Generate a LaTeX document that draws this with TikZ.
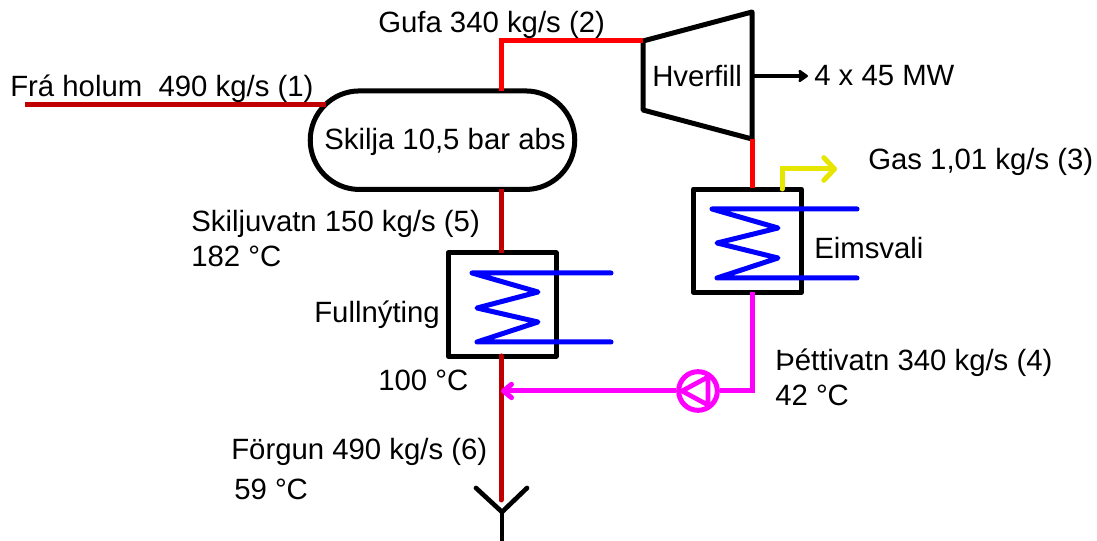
\documentclass[tikz,border=0pt]{standalone}
\usepackage{fontspec}
\setmainfont{Liberation Sans}
\usetikzlibrary{arrows.meta}
\definecolor{darkred}{RGB}{192,0,0}
\definecolor{gasyellow}{RGB}{230,230,0}
\definecolor{purewater}{RGB}{255,0,255}
\definecolor{coilblue}{RGB}{0,0,255}
\definecolor{hotred}{RGB}{255,0,0}
\tikzset{
    every node/.style={inner sep=0pt, font=\fontsize{22}{26}\selectfont},
    txt/.style={anchor=base west},
    vessel/.style={draw, line width=3.75pt, rounded corners=36.9pt, minimum width=198.4pt, minimum height=73.9pt},
    hxbox/.style={draw, line width=3.75pt, minimum width=81pt, minimum height=77.4pt, line join=round},
    outline/.style={draw, line width=3.75pt, line join=round},
    pipe/.style={line width=3.75pt, line join=miter},
    coil/.style={coilblue, line width=3.75pt, line cap=round, line join=round}
}

\begin{document}
\begin{tikzpicture}[x=0.75pt, y=-0.75pt]
    \useasboundingbox (0,0) rectangle (1097,541);

    \node (skilja) [vessel] at (442.5,140.2) {};
    \node (t-skil) [txt] at (324,150) {Skilja 10,5 bar abs};
    \node (full) [hxbox] at (502,304.5) {};
    \node (eims) [hxbox] at (747.3,240.7) {};

    \coordinate (t1) at (643,41);
    \coordinate (t2) at (752,12);
    \coordinate (t3) at (752,139);
    \coordinate (t4) at (643,110);
    \draw [outline] (t1) -- (t2) -- (t3) -- (t4) -- cycle;
    \node (hverfill) [txt] at (652,87) {Hverfill};

    \coordinate (inn) at (25,105);
    \coordinate (innEnd) at (326,105);
    \coordinate (gufaUp) at (501,91);
    \coordinate (gufaCorner) at (501,41);
    \coordinate (gasStart) at (782,189);
    \coordinate (gasCorner) at (782,169);
    \coordinate (gasEnd) at (837,169);
    \coordinate (aflStart) at (753,76);
    \coordinate (aflEnd) at (808,76);
    \coordinate (tOut) at (752,139);
    \coordinate (eimsIn) at (752,188);
    \coordinate (eimsOut) at (752,292);
    \coordinate (horn) at (752,391);
    \coordinate (blanda) at (501,391);
    \coordinate (sepOut) at (501,189);
    \coordinate (fullIn) at (501,253);
    \coordinate (fullOut) at (501,356);
    \coordinate (forgun) at (501,500);

    \draw [pipe, darkred] (inn) -- (innEnd);
    \draw [pipe, hotred] (gufaUp) -- (gufaCorner) -- (t1);
    \draw [pipe, hotred] (tOut) -- (eimsIn);
    \draw [pipe, darkred] (sepOut) -- (fullIn);
    \draw [pipe, darkred, line cap=round] (fullOut) -- (forgun);
    \draw [pipe, gasyellow, line cap=round, -{Straight Barb[length=8pt,width=17pt,round]}] (gasStart) -- (gasCorner) -- (gasEnd);
    \draw [line width=3.5pt, -{Stealth[length=8pt,width=11pt,inset=1pt,round]}] (aflStart) -- (aflEnd);

    % coil, left exchanger
    \draw [coil] (611,273) -- (472,273) -- (538,292) -- (477,308) -- (538,322) -- (477,342) -- (611,342);
    % coil, right exchanger
    \draw [coil] (857,209) -- (712,209) -- (778,228) -- (717,243) -- (778,258) -- (717,278) -- (857,278);

    \node (pump) [circle, draw=purewater, line width=3.75pt, minimum size=29pt] at (698,391) {};
    \draw [purewater, line width=3.5pt, line join=round] (682,391) -- (708,377) -- (708,405) -- cycle;
    \draw [pipe, purewater] (eimsOut) -- (horn) -- (pump);
    \draw [pipe, purewater, -{Straight Barb[length=6pt,width=10pt,round]}] (pump) -- (blanda);

    % drain
    \coordinate (yLeft) at (476,488);
    \coordinate (yRight) at (527,488);
    \coordinate (yMid) at (502,512);
    \coordinate (yEnd) at (502,541);
    \draw [line width=3.5pt, line cap=round, line join=round] (yLeft) -- (yMid) -- (yRight);
    \draw [line width=3.5pt] (yMid) -- (yEnd);

    \node (t-hol) [txt] at (10,97) {Frá holum\ \ 490 kg/s (1)};
    \node (t-guf) [txt] at (378,33) {Gufa 340 kg/s (2)};
    \node (t-mw) [txt] at (814,86) {4 x 45 MW};
    \node (t-gas) [txt] at (868,170) {Gas 1,01 kg/s (3)};
    \node (t-eim) [txt] at (814,259) {Eimsvali};
    \node (t-ski) [txt] at (191,232) {Skiljuvatn 150 kg/s (5)};
    \node (t-182) [txt] at (191,267) {182 °C};
    \node (t-ful) [txt] at (314,323) {Fullnýting};
    \node (t-100) [txt] at (378,391) {100 °C};
    \node (t-the) [txt] at (775,371) {Þéttivatn 340 kg/s (4)};
    \node (t-42) [txt] at (775,406) {42 °C};
    \node (t-for) [txt] at (231,460) {Förgun 490 kg/s (6)};
    \node (t-59) [txt] at (234,500) {59 °C};
\end{tikzpicture}
\end{document}
